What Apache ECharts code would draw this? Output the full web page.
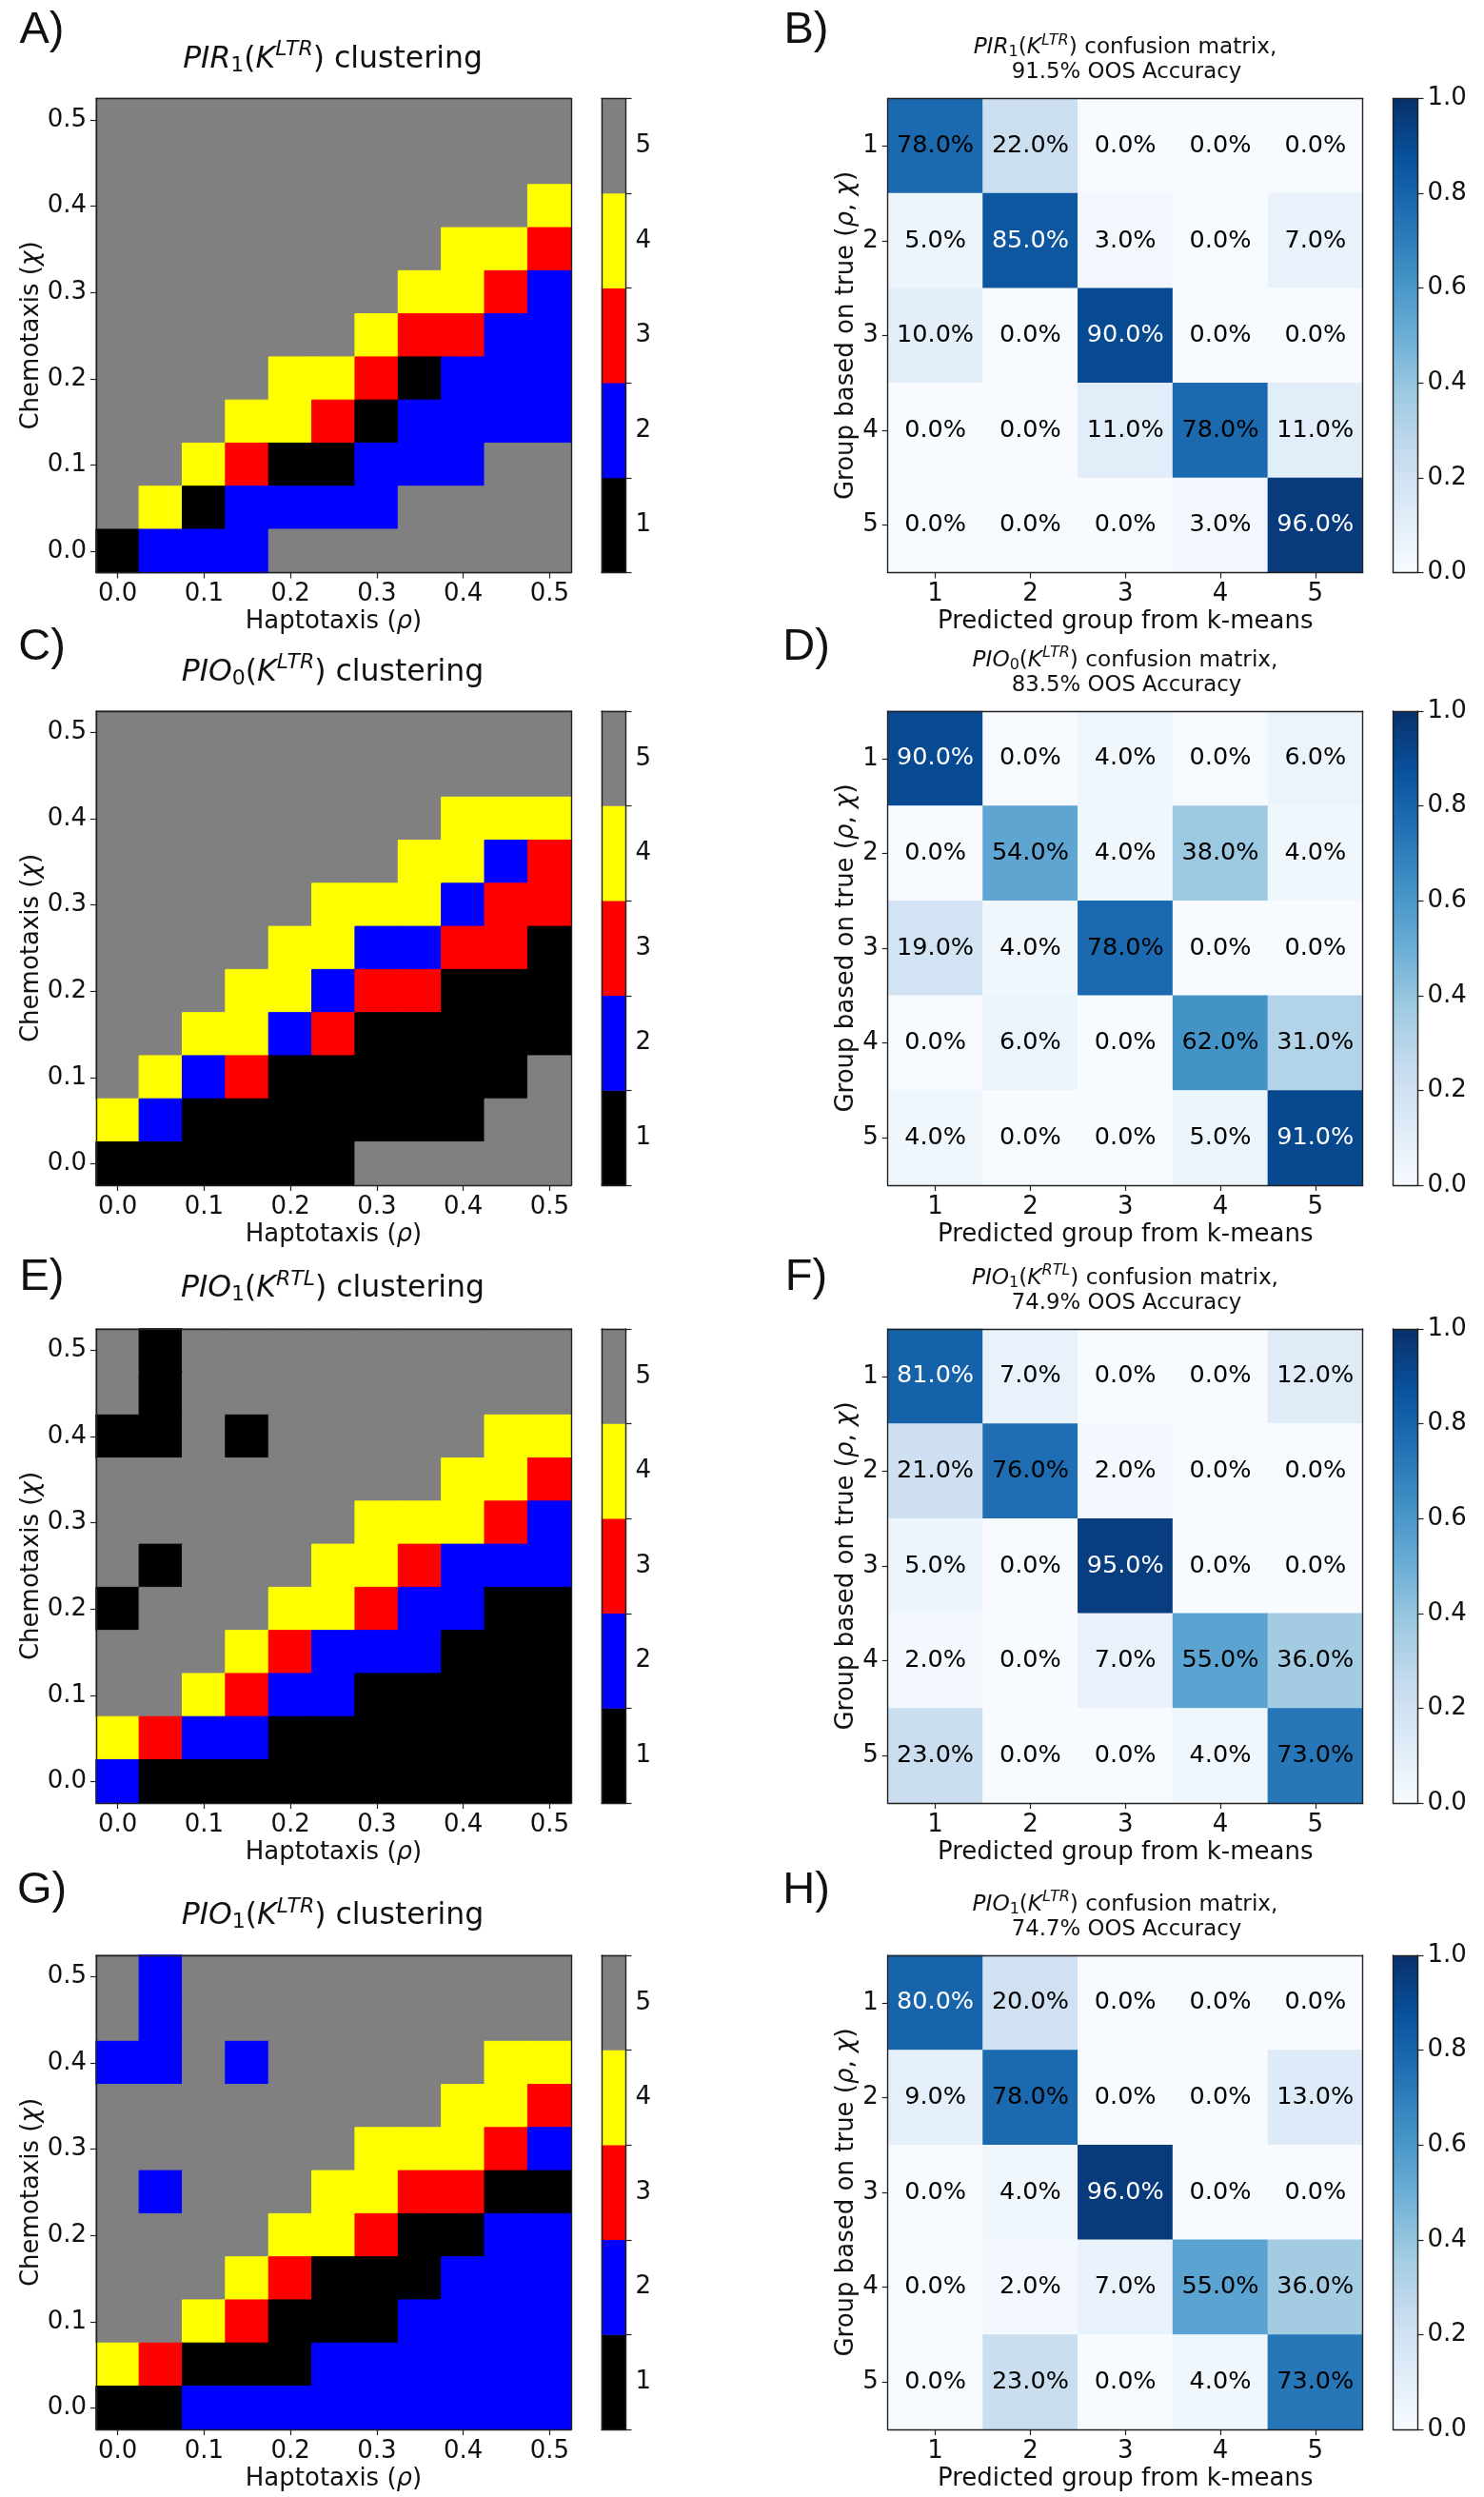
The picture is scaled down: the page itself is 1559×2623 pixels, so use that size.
<!DOCTYPE html>
<html>
<head>
<meta charset="utf-8">
<title>Clustering and confusion matrices</title>
<script src="https://cdn.jsdelivr.net/npm/echarts@6/dist/echarts.min.js"></script>
<style>body{margin:0;background:#fff}</style>
</head>
<body>
<div id="container" style="width:1559px;height:2623px;"></div>
<script>
// haptotaxis / chemotaxis values on both axes of the clustering maps
var rhoValues = ['0.0','0.05','0.1','0.15','0.2','0.25','0.3','0.35','0.4','0.45','0.5'];
var chiValues = ['0.0','0.05','0.1','0.15','0.2','0.25','0.3','0.35','0.4','0.45','0.5'];
var groupLabels = ['1','2','3','4','5'];
var colorbarRange = [1];

// cluster maps: first row is chi = 0.5, last row is chi = 0.0
var clusterA = [
  [5,5,5,5,5,5,5,5,5,5,5],
  [5,5,5,5,5,5,5,5,5,5,5],
  [5,5,5,5,5,5,5,5,5,5,4],
  [5,5,5,5,5,5,5,5,4,4,3],
  [5,5,5,5,5,5,5,4,4,3,2],
  [5,5,5,5,5,5,4,3,3,2,2],
  [5,5,5,5,4,4,3,1,2,2,2],
  [5,5,5,4,4,3,1,2,2,2,2],
  [5,5,4,3,1,1,2,2,2,5,5],
  [5,4,1,2,2,2,2,5,5,5,5],
  [1,2,2,2,5,5,5,5,5,5,5]
];
var clusterC = [
  [5,5,5,5,5,5,5,5,5,5,5],
  [5,5,5,5,5,5,5,5,5,5,5],
  [5,5,5,5,5,5,5,5,4,4,4],
  [5,5,5,5,5,5,5,4,4,2,3],
  [5,5,5,5,5,4,4,4,2,3,3],
  [5,5,5,5,4,4,2,2,3,3,1],
  [5,5,5,4,4,2,3,3,1,1,1],
  [5,5,4,4,2,3,1,1,1,1,1],
  [5,4,2,3,1,1,1,1,1,1,5],
  [4,2,1,1,1,1,1,1,1,5,5],
  [1,1,1,1,1,1,5,5,5,5,5]
];
var clusterE = [
  [5,1,5,5,5,5,5,5,5,5,5],
  [5,1,5,5,5,5,5,5,5,5,5],
  [1,1,5,1,5,5,5,5,5,4,4],
  [5,5,5,5,5,5,5,5,4,4,3],
  [5,5,5,5,5,5,4,4,4,3,2],
  [5,1,5,5,5,4,4,3,2,2,2],
  [1,5,5,5,4,4,3,2,2,1,1],
  [5,5,5,4,3,2,2,2,1,1,1],
  [5,5,4,3,2,2,1,1,1,1,1],
  [4,3,2,2,1,1,1,1,1,1,1],
  [2,1,1,1,1,1,1,1,1,1,1]
];
var clusterG = [
  [5,2,5,5,5,5,5,5,5,5,5],
  [5,2,5,5,5,5,5,5,5,5,5],
  [2,2,5,2,5,5,5,5,5,4,4],
  [5,5,5,5,5,5,5,5,4,4,3],
  [5,5,5,5,5,5,4,4,4,3,2],
  [5,2,5,5,5,4,4,3,3,1,1],
  [5,5,5,5,4,4,3,1,1,2,2],
  [5,5,5,4,3,1,1,1,2,2,2],
  [5,5,4,3,1,1,1,2,2,2,2],
  [4,3,1,1,1,2,2,2,2,2,2],
  [1,1,2,2,2,2,2,2,2,2,2]
];

// confusion matrices in percent, rows are the true group
var confusionB = [
  [78,22,0,0,0],
  [5,85,3,0,7],
  [10,0,90,0,0],
  [0,0,11,78,11],
  [0,0,0,3,96]
];
var confusionD = [
  [90,0,4,0,6],
  [0,54,4,38,4],
  [19,4,78,0,0],
  [0,6,0,62,31],
  [4,0,0,5,91]
];
var confusionF = [
  [81,7,0,0,12],
  [21,76,2,0,0],
  [5,0,95,0,0],
  [2,0,7,55,36],
  [23,0,0,4,73]
];
var confusionH = [
  [80,20,0,0,0],
  [9,78,0,0,13],
  [0,4,96,0,0],
  [0,2,7,55,36],
  [0,23,0,4,73]
];

var clusterMaps = [clusterA, clusterC, clusterE, clusterG];
var confusionMaps = [confusionB, confusionD, confusionF, confusionH];
var clusterLetters = ['A)', 'C)', 'E)', 'G)'];
var confusionLetters = ['B)', 'D)', 'F)', 'H)'];
var modelNames = [['PIR', '1', 'LTR'], ['PIO', '0', 'LTR'], ['PIO', '1', 'RTL'], ['PIO', '1', 'LTR']];
var accuracyLabels = ['91.5%', '83.5%', '74.9%', '74.7%'];

var groupColors = ['#000000', '#0000ff', '#ff0000', '#ffff00', '#808080'];
var blues = ['#f7fbff','#deebf7','#c6dbef','#9ecae1','#6baed6','#4292c6','#2171b5','#08519c','#08306b'];

// layout
var rowTops = [103.5, 747, 1396, 2054];
var rowH = 498;
var titleY = [62.5, 706.5, 1354, 2013];
var matTitleY = [50.5, 694, 1343, 2001];
var letterY = [32, 680, 1342, 1986];

var font = 'DejaVu Sans';
var ink = '#111';
var labelSize = 26;
var labelMargin = 10;
var mathRich = {
  i: { fontFamily: font, fontStyle: 'italic', color: ink, fontSize: labelSize }
};

var grids = [], xAxes = [], yAxes = [], series = [], titles = [];
var discreteIdx = [], blueIdx = [];

function baseAxis(g, extra) {
  return Object.assign({
    gridIndex: g,
    z: 5,
    axisLine: { show: true, onZero: false, lineStyle: { color: '#222', width: 1.4 } },
    axisTick: { show: true, length: 6, lineStyle: { color: '#222', width: 1.2 } },
    axisLabel: { color: ink, fontFamily: font, fontSize: labelSize, margin: labelMargin },
    splitLine: { show: false },
    splitArea: { show: false }
  }, extra);
}

// label style of the vertical axes, nudged down to sit as in the reference
function yLabel(extra) {
  return Object.assign({ color: ink, fontFamily: font, fontSize: labelSize, margin: labelMargin, padding: [4, 0, 0, 0] }, extra);
}

// top and right spines are axes without ticks or labels
function addSpines(g, xData, yData, yInverse) {
  xAxes.push(baseAxis(g, { type: 'category', data: xData, position: 'top', axisTick: { show: false }, axisLabel: { show: false } }));
  yAxes.push(baseAxis(g, { type: 'category', data: yData, position: 'right', inverse: !!yInverse, axisTick: { show: false }, axisLabel: { show: false } }));
}

function addGrid(left, top, width, height) {
  grids.push({ left: left, top: top, width: width, height: height, containLabel: false });
  return grids.length - 1;
}

function titleRich(m, size, rest) {
  var subSize = Math.round(size * 0.7);
  return {
    text: '{i|' + m[0] + '}{s|' + m[1] + '}{n|(}{i|K}{u|' + m[2] + '}{n|) ' + rest + '}',
    rich: {
      i: { fontFamily: font, fontStyle: 'italic', fontWeight: 'normal', fontSize: size, color: ink },
      n: { fontFamily: font, fontWeight: 'normal', fontSize: size, color: ink },
      s: { fontFamily: font, fontWeight: 'normal', fontSize: subSize, color: ink, padding: [size * 0.42, 0, 0, 0] },
      u: { fontFamily: font, fontStyle: 'italic', fontWeight: 'normal', fontSize: subSize, color: ink, padding: [0, 0, size * 0.62, 0] }
    }
  };
}

function addTitle(x, y, text, style) {
  titles.push({
    text: text,
    left: x,
    top: y,
    textAlign: 'center',
    textVerticalAlign: 'middle',
    padding: 0,
    textStyle: style
  });
}

clusterMaps.forEach(function (rows, p) {
  var top = rowTops[p];

  // cluster map
  var g = addGrid(101, top, 499, rowH);
  xAxes.push(baseAxis(g, {
    type: 'category', data: rhoValues, position: 'bottom',
    axisTick: { show: true, alignWithLabel: true, interval: 1, length: 6, lineStyle: { color: '#222', width: 1.2 } },
    axisLabel: { color: ink, fontFamily: font, fontSize: labelSize, margin: labelMargin, interval: 1 },
    name: 'Haptotaxis ({i|ρ})', nameLocation: 'middle', nameGap: 39,
    nameTextStyle: { color: ink, fontFamily: font, fontSize: labelSize, rich: mathRich }
  }));
  yAxes.push(baseAxis(g, {
    type: 'category', data: chiValues, position: 'left',
    axisTick: { show: true, alignWithLabel: true, interval: 1, length: 6, lineStyle: { color: '#222', width: 1.2 } },
    axisLabel: yLabel({ interval: 1 }),
    name: 'Chemotaxis ({i|χ})', nameLocation: 'middle', nameGap: 55,
    nameTextStyle: { color: ink, fontFamily: font, fontSize: labelSize, rich: mathRich }
  }));
  addSpines(g, rhoValues, chiValues);
  var cells = [];
  rows.forEach(function (row, r) {
    row.forEach(function (v, c) {
      // a border in the cell's own colour closes the hairline seams between cells
      cells.push({ value: [c, rows.length - 1 - r, v], itemStyle: { borderWidth: 1, borderColor: groupColors[v - 1] } });
    });
  });
  discreteIdx.push(series.length);
  series.push({ type: 'heatmap', xAxisIndex: xAxes.length - 2, yAxisIndex: yAxes.length - 2, data: cells, emphasis: { disabled: true }, progressive: 0 });

  // discrete colourbar
  var gb = addGrid(632, top, 25.5, rowH);
  xAxes.push(baseAxis(gb, { type: 'category', data: [''], position: 'bottom', axisTick: { show: false }, axisLabel: { show: false } }));
  yAxes.push(baseAxis(gb, { type: 'category', data: groupLabels, position: 'right', axisLabel: yLabel() }));
  addSpines(gb, [''], groupLabels);
  // the spine pair goes on the opposite sides here
  yAxes[yAxes.length - 1].position = 'left';
  discreteIdx.push(series.length);
  series.push({
    type: 'heatmap', xAxisIndex: xAxes.length - 2, yAxisIndex: yAxes.length - 2,
    data: groupLabels.map(function (l, i) { return [0, i, +l]; }),
    itemStyle: { borderWidth: 0 }, emphasis: { disabled: true }
  });

  // confusion matrix
  var gm = addGrid(932.7, top, 499, rowH);
  xAxes.push(baseAxis(gm, {
    type: 'category', data: groupLabels, position: 'bottom',
    axisTick: { show: true, alignWithLabel: true, length: 6, lineStyle: { color: '#222', width: 1.2 } },
    name: 'Predicted group from k-means', nameLocation: 'middle', nameGap: 39,
    nameTextStyle: { color: ink, fontFamily: font, fontSize: labelSize }
  }));
  yAxes.push(baseAxis(gm, {
    type: 'category', data: groupLabels, position: 'left', inverse: true,
    axisTick: { show: true, alignWithLabel: true, length: 6, lineStyle: { color: '#222', width: 1.2 } },
    axisLabel: yLabel(),
    name: 'Group based on true ({i|ρ}, {i|χ})', nameLocation: 'middle', nameGap: 30,
    nameTextStyle: { color: ink, fontFamily: font, fontSize: labelSize, rich: mathRich }
  }));
  addSpines(gm, groupLabels, groupLabels, true);
  var mat = [];
  confusionMaps[p].forEach(function (row, r) {
    row.forEach(function (v, c) {
      mat.push({ value: [c, r, v], label: { color: v >= 80 ? '#fff' : '#000' } });
    });
  });
  blueIdx.push(series.length);
  series.push({
    type: 'heatmap', xAxisIndex: xAxes.length - 2, yAxisIndex: yAxes.length - 2, data: mat,
    itemStyle: { borderWidth: 0 }, emphasis: { disabled: true },
    label: {
      show: true, fontFamily: font, fontSize: 25.5, padding: [2, 0, 0, 0],
      formatter: function (d) { return d.value[2].toFixed(1) + '%'; }
    }
  });

  // continuous colourbar
  var gc = addGrid(1463.5, top, 26, rowH);
  xAxes.push(baseAxis(gc, { type: 'category', data: [''], position: 'bottom', axisTick: { show: false }, axisLabel: { show: false } }));
  yAxes.push(baseAxis(gc, {
    type: 'value', min: 0, max: 1, interval: 0.2, position: 'right',
    axisLabel: yLabel({ formatter: function (v) { return v.toFixed(1); } })
  }));
  addSpines(gc, [''], groupLabels);
  yAxes[yAxes.length - 1].position = 'left';
  series.push({
    type: 'bar', xAxisIndex: xAxes.length - 2, yAxisIndex: yAxes.length - 2,
    data: colorbarRange, barWidth: '100%', silent: true,
    itemStyle: {
      color: new echarts.graphic.LinearGradient(0, 1, 0, 0, blues.map(function (c, i) {
        return { offset: i / (blues.length - 1), color: c };
      }))
    }
  });

  // titles and panel letters
  var t = titleRich(modelNames[p], 31.5, 'clustering');
  addTitle(349.5, titleY[p], t.text, { fontWeight: 'normal', rich: t.rich });
  var mt = titleRich(modelNames[p], 23.2, 'confusion matrix,');
  addTitle(1182, matTitleY[p] - 0.5, mt.text, { fontWeight: 'normal', rich: mt.rich });
  addTitle(1183.5, matTitleY[p] + 26, accuracyLabels[p] + ' OOS Accuracy', { fontFamily: font, fontSize: 22.8, fontWeight: 'normal', color: ink });
  var letterStyle = { fontFamily: 'Liberation Sans', fontSize: 47, fontWeight: 'normal', color: ink };
  addTitle(44, letterY[p], clusterLetters[p], letterStyle);
  addTitle(847, letterY[p], confusionLetters[p], letterStyle);
});

var myChart = echarts.init(document.getElementById('container'), null, { renderer: 'canvas' });
myChart.setOption({
  animation: false,
  backgroundColor: '#fff',
  title: titles,
  grid: grids,
  xAxis: xAxes,
  yAxis: yAxes,
  visualMap: [{
    type: 'piecewise', show: false, seriesIndex: discreteIdx, dimension: 2,
    pieces: groupColors.map(function (c, i) { return { value: i + 1, color: c }; })
  }, {
    type: 'continuous', show: false, seriesIndex: blueIdx, dimension: 2,
    min: 0, max: 100, inRange: { color: blues }
  }],
  series: series
});
</script>
</body>
</html>
